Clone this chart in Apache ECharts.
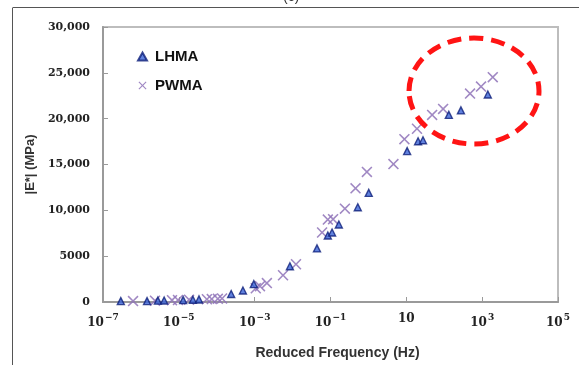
<!DOCTYPE html>
<html>
<head>
<meta charset="utf-8">
<script src="https://cdn.jsdelivr.net/npm/echarts@6/dist/echarts.min.js"></script>
<style>html,body{margin:0;padding:0;background:#fff;}#c{width:579px;height:365px;}</style>
</head>
<body>
<div id="c"></div>
<script>
// Reduced frequency (Hz) and |E*| (MPa)
var lhmaFreq = [2.95e-7, 1.45e-6, 2.8e-6, 4.1e-6, 1.3e-5, 2.35e-5, 3.4e-5, 2.4e-4, 4.9e-4, 9.5e-4, 8.5e-3, 0.044, 0.085, 0.11, 0.166, 0.525, 1.02, 10.5, 20.4, 27.5, 132, 275, 1410];
var lhmaE    = [100, 100, 150, 170, 200, 250, 280, 870, 1250, 1950, 3900, 5850, 7250, 7580, 8450, 10340, 11900, 16460, 17540, 17650, 20410, 20900, 22630];
var pwmaFreq = [6.2e-7, 2.35e-6, 6.6e-6, 9.5e-6, 1.86e-5, 5.5e-5, 7.4e-5, 1.07e-4, 1.38e-4, 1.07e-3, 1.38e-3, 2.1e-3, 5.6e-3, 0.0123, 0.060, 0.085, 0.117, 0.24, 0.457, 0.912, 4.57, 8.9, 19.1, 47.9, 93.3, 479, 933, 1905];
var pwmaE    = [100, 150, 200, 220, 250, 300, 320, 350, 380, 1500, 1730, 2060, 2920, 4120, 7580, 8990, 9040, 10180, 12400, 14190, 15050, 17760, 18900, 20410, 21060, 22740, 23500, 24530];
var xTickExponents = [-7, -5, -3, -1, 1, 3, 5];
var yTickLabels = {0: '0', 5000: '5000', 10000: '10,000', 15000: '15,000', 20000: '20,000', 25000: '25,000', 30000: '30,000'};

function pairs(f, e) { return f.map(function (v, i) { return [Math.log10(v), e[i]]; }); }

var crossPath = 'path://M0,1L1,0L5,4L9,0L10,1L6,5L10,9L9,10L5,6L1,10L0,9L4,5Z';
var chart = echarts.init(document.getElementById('c'));
chart.setOption({
  animation: false,
  backgroundColor: '#fff',
  grid: { left: 103, top: 27, right: 21, bottom: 61, show: true, borderColor: '#bdbdbd', borderWidth: 2 },
  legend: {
    left: 132, top: 44, orient: 'vertical', itemGap: 14, itemWidth: 9, itemHeight: 8,
    textStyle: { fontFamily: 'Liberation Sans', fontWeight: 'bold', fontSize: 15, color: '#111', padding: [0, 0, 0, 3] },
    data: ['LHMA', 'PWMA']
  },
  xAxis: {
    type: 'value', min: -7, max: 5, interval: 2,
    name: 'Reduced Frequency (Hz)', nameLocation: 'middle', nameGap: 44,
    nameTextStyle: { fontFamily: 'Liberation Sans', fontWeight: 'bold', fontSize: 14, color: '#333', padding: [0, 0, 0, 14] },
    axisLine: { show: true, onZero: false, lineStyle: { color: '#9a9a9a', width: 2 } },
    axisTick: { show: true, inside: true, length: 5, lineStyle: { color: '#9a9a9a' } },
    splitLine: { show: false },
    axisLabel: {
      margin: 11,
      formatter: function (v) {
        if (xTickExponents.indexOf(v) < 0) return '';
        if (v === 1) return '{b|10}';
        var sup = (v < 0 ? '\u2212' : '') + Math.abs(v);
        return '{b|10}{s|' + sup + '}';
      },
      rich: {
        b: { fontFamily: 'DejaVu Serif', fontWeight: 'bold', fontSize: 12, color: '#222' },
        s: { fontFamily: 'DejaVu Serif', fontWeight: 'bold', fontSize: 9, color: '#222', padding: [0, 0, 11, 1] }
      }
    }
  },
  yAxis: {
    type: 'value', min: 0, max: 30000, interval: 5000,
    name: '|E*| (MPa)', nameLocation: 'middle', nameGap: 62, nameRotate: 90,
    nameTextStyle: { fontFamily: 'Liberation Sans', fontWeight: 'bold', fontSize: 13, color: '#333' },
    axisLine: { show: true, onZero: false, lineStyle: { color: '#9a9a9a', width: 2 } },
    axisTick: { show: true, inside: true, length: 5, lineStyle: { color: '#9a9a9a' } },
    splitLine: { show: false },
    axisLabel: {
      margin: 13,
      fontFamily: 'DejaVu Serif', fontWeight: 'bold', fontSize: 11, color: '#222',
      formatter: function (v) { return yTickLabels[v] !== undefined ? yTickLabels[v] : ''; }
    }
  },
  series: [
    {
      name: 'LHMA', type: 'scatter', symbol: 'triangle', symbolSize: 7,
      itemStyle: { color: '#3a63d6', borderColor: '#0e1f7a', borderWidth: 1.4 },
      data: pairs(lhmaFreq, lhmaE), z: 3
    },
    {
      name: 'PWMA', type: 'scatter', symbol: crossPath, symbolSize: 11,
      itemStyle: { color: '#8f73b8', opacity: 0.85 },
      data: pairs(pwmaFreq, pwmaE), z: 2
    }
  ],
  graphic: [
    { type: 'line', shape: { x1: 13, y1: 7.5, x2: 579, y2: 7.5 }, style: { stroke: '#555', lineWidth: 1 } },
    { type: 'line', shape: { x1: 12.5, y1: 7.5, x2: 12.5, y2: 365 }, style: { stroke: '#555', lineWidth: 1 } },
    { type: 'text', x: 283, y: -10, style: { text: '(c)', fontFamily: 'Liberation Sans', fontSize: 14, fill: '#333' } },
    { type: 'ellipse', z: 100, shape: { cx: 474, cy: 91, rx: 65, ry: 53 },
      style: { fill: 'none', stroke: '#ff1414', lineWidth: 5, lineDash: [14, 8] } }
  ]
});
</script>
</body>
</html>
